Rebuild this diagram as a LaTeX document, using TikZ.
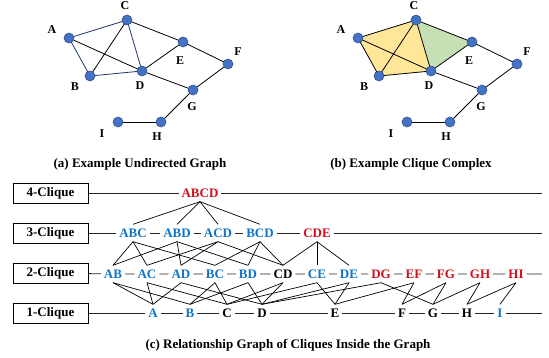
\documentclass[tikz,border=0pt]{standalone}
\usepackage{fontspec}
\setmainfont{Liberation Serif}
\definecolor{cblue}{HTML}{0F74C8}
\definecolor{cred}{HTML}{D0101C}
\definecolor{vfill}{HTML}{4472C4}
\definecolor{vdraw}{HTML}{2F528F}
\definecolor{eblue}{HTML}{203864}
\definecolor{yfill}{HTML}{FFE699}
\definecolor{gfill}{HTML}{C5E0B4}
\begin{document}
\begin{tikzpicture}[x=1pt,y=-1pt,
  vert/.style={circle,fill=vfill,draw=vdraw,line width=0.6pt,minimum size=10pt,inner sep=0pt},
  vlab/.style={font=\fontsize{12}{14}\selectfont\bfseries,inner sep=0pt},
  gedge/.style={line width=0.8pt,black},
  bedge/.style={line width=0.8pt,eblue},
  capt/.style={font=\fontsize{13}{15}\selectfont\bfseries,inner sep=0pt},
  lbox/.style={draw,line width=0.8pt,minimum width=75pt,minimum height=20pt,inner sep=0pt,font=\fontsize{13}{15}\selectfont\bfseries},
  cq/.style={font=\fontsize{13}{15}\selectfont\bfseries,inner xsep=2.8pt,inner ysep=4pt,text height=9pt,text depth=0pt},
  cb/.style={cq,text=cblue},
  cr/.style={cq,text=cred},
  ck/.style={cq,text=black},
  rowline/.style={line width=0.8pt,black!85},
  link/.style={line width=0.7pt,black},
]
\useasboundingbox (0,0) rectangle (549,358);

% ---------- (a) ----------
\coordinate (aA) at (69,38);
\coordinate (aC) at (127,20);
\coordinate (aE) at (183,42);
\coordinate (aF) at (228,64);
\coordinate (aB) at (90,76);
\coordinate (aD) at (142,71);
\coordinate (aG) at (193,90);
\coordinate (aH) at (161,122);
\coordinate (aI) at (118,122);
\draw[bedge] (aA) -- (aC);
\draw[bedge] (aA) -- (aB);
\draw[bedge] (aB) -- (aD);
\draw[bedge] (aC) -- (aD);
\draw[gedge] (aB) -- (aC);
\draw[gedge] (aA) -- (aD);
\draw[gedge] (aC) -- (aE);
\draw[gedge] (aD) -- (aE);
\draw[gedge] (aE) -- (aF);
\draw[gedge] (aF) -- (aG);
\draw[gedge] (aD) -- (aG);
\draw[gedge] (aG) -- (aH);
\draw[gedge] (aH) -- (aI);
\foreach \n in {A,B,C,D,E,F,G,H,I} {\node[vert] (va\n) at (a\n) {};}
\node[vlab] (laA) at (52,30) {A};
\node[vlab] (laC) at (125,6) {C};
\node[vlab] (laB) at (75,87) {B};
\node[vlab] (laD) at (140,86) {D};
\node[vlab] (laE) at (180,61) {E};
\node[vlab] (laF) at (238,52) {F};
\node[vlab] (laG) at (192,107) {G};
\node[vlab] (laI) at (102,134) {I};
\node[vlab] (laH) at (157,137) {H};
\node[capt] (capa) at (140,164) {(a) Example Undirected Graph};

% ---------- (b) ----------
\coordinate (bA) at (358,38);
\coordinate (bC) at (416,20);
\coordinate (bE) at (472,42);
\coordinate (bF) at (517,64);
\coordinate (bB) at (379,76);
\coordinate (bD) at (431,71);
\coordinate (bG) at (482,90);
\coordinate (bH) at (450,122);
\coordinate (bI) at (407,122);
\fill[yfill] (bA) -- (bC) -- (bD) -- (bB) -- cycle;
\fill[gfill] (bC) -- (bE) -- (bD) -- cycle;
\draw[gedge] (bA) -- (bC);
\draw[gedge] (bA) -- (bB);
\draw[gedge] (bB) -- (bD);
\draw[gedge] (bC) -- (bD);
\draw[gedge] (bB) -- (bC);
\draw[gedge] (bA) -- (bD);
\draw[gedge] (bC) -- (bE);
\draw[gedge] (bD) -- (bE);
\draw[gedge] (bE) -- (bF);
\draw[gedge] (bF) -- (bG);
\draw[gedge] (bD) -- (bG);
\draw[gedge] (bG) -- (bH);
\draw[gedge] (bH) -- (bI);
\foreach \n in {A,B,C,D,E,F,G,H,I} {\node[vert] (vb\n) at (b\n) {};}
\node[vlab] (lbA) at (341,30) {A};
\node[vlab] (lbC) at (414,6) {C};
\node[vlab] (lbB) at (364,87) {B};
\node[vlab] (lbD) at (429,86) {D};
\node[vlab] (lbE) at (469,61) {E};
\node[vlab] (lbF) at (527,52) {F};
\node[vlab] (lbG) at (481,107) {G};
\node[vlab] (lbI) at (391,134) {I};
\node[vlab] (lbH) at (446,137) {H};
\node[capt] (capb) at (411,164) {(b) Example Clique Complex};

% ---------- (c) ----------
\node[lbox] (k4) at (50.5,193) {4-Clique};
\node[lbox] (k3) at (50.5,233) {3-Clique};
\node[lbox] (k2) at (50.5,273) {2-Clique};
\node[lbox] (k1) at (50.5,313) {1-Clique};

% row 4
\node[cr] (ABCD) at (200,193) {ABCD};
\coordinate (e4) at (542,193);
% row 3
\node[cb] (ABC) at (133,233) {ABC};
\node[cb] (ABD) at (177,233) {ABD};
\node[cb] (ACD) at (218,233) {ACD};
\node[cb] (BCD) at (260,233) {BCD};
\node[cr] (CDE) at (317,233) {CDE};
\coordinate (e3) at (542,233);
% row 2
\node[cb] (AB) at (113,274) {AB};
\node[cb] (AC) at (147,274) {AC};
\node[cb] (AD) at (181,274) {AD};
\node[cb] (BC) at (215,274) {BC};
\node[cb] (BD) at (248,274) {BD};
\node[ck] (CD) at (283,274) {CD};
\node[cb] (CE) at (317,274) {CE};
\node[cb] (DE) at (349,274) {DE};
\node[cr] (DG) at (381,274) {DG};
\node[cr] (EF) at (414,274) {EF};
\node[cr] (FG) at (446,274) {FG};
\node[cr] (GH) at (480,274) {GH};
\node[cr] (HI) at (516,274) {HI};
\coordinate (e2) at (542,274);
% row 1
\node[cb] (A) at (153,313) {A};
\node[cb] (B) at (190,313) {B};
\node[ck] (C) at (227,313) {C};
\node[ck] (D) at (262,313) {D};
\node[ck] (E) at (335,313) {E};
\node[ck] (F) at (402,313) {F};
\node[ck] (G) at (433,313) {G};
\node[ck] (H) at (467,313) {H};
\node[cb] (I) at (500,313) {I};
\coordinate (e1) at (542,313);

% row lines
\draw[rowline] (k4) -- (ABCD) -- (e4);
\draw[rowline] (k3) -- (ABC) -- (ABD) -- (ACD) -- (BCD) -- (CDE) -- (e3);
\draw[rowline] (k2) -- (AB) -- (AC) -- (AD) -- (BC) -- (BD) -- (CD) -- (CE) -- (DE) -- (DG) -- (EF) -- (FG) -- (GH) -- (HI) -- (e2);
\draw[rowline] (k1) -- (A) -- (B) -- (C) -- (D) -- (E) -- (F) -- (G) -- (H) -- (I) -- (e1);

% 4 -> 3
\foreach \s in {ABC,ABD,ACD,BCD} {\draw[link] (ABCD.south) -- (\s.north);}
% 3 -> 2
\foreach \u/\l in {ABC/AB,ABC/AC,ABC/BC,ABD/AB,ABD/AD,ABD/BD,ACD/AC,ACD/AD,ACD/CD,BCD/BC,BCD/BD,BCD/CD,CDE/CD,CDE/CE,CDE/DE}
  {\draw[link] (\u.south) -- (\l.north);}
% 2 -> 1
\foreach \u/\l in {AB/A,AB/B,AC/A,AC/C,AD/A,AD/D,BC/B,BC/C,BD/B,BD/D,CD/C,CD/D,CE/C,CE/E,DE/D,DE/E,DG/D,DG/G,EF/E,EF/F,FG/F,FG/G,GH/G,GH/H,HI/H,HI/I}
  {\draw[link] (\u.south) -- (\l.north);}

\node[capt] (capc) at (288,345) {(c) Relationship Graph of Cliques Inside the Graph};
\end{tikzpicture}
\end{document}
